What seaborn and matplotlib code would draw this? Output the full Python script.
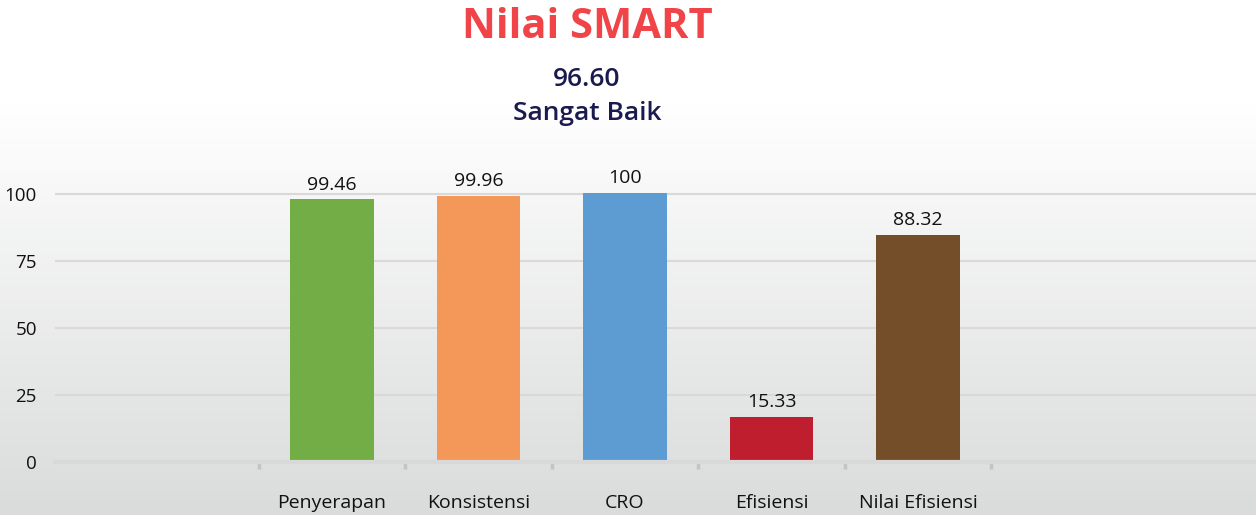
import numpy as np
import pandas as pd
import matplotlib
matplotlib.use("Agg")
import matplotlib.pyplot as plt
import seaborn as sns

# data
categories = ["Penyerapan", "Konsistensi", "CRO", "Efisiensi", "Nilai Efisiensi"]
bar_heights = [98.1, 99.3, 100.4, 16.8, 84.7]
value_labels = ["99.46", "99.96", "100", "15.33", "88.32"]
bar_colors = ["#72AD46", "#F39858", "#5D9BD3", "#BE1E2D", "#734E29"]
y_ticks = [0, 25, 50, 75, 100]
title = "Nilai SMART"
score = "96.60"
grade = "Sangat Baik"

sns.set_theme(style="white")
plt.rcParams['font.family'] = ['Open Sans', 'DejaVu Sans']

W, H = 1256, 515
fig = plt.figure(figsize=(W / 100, H / 100), dpi=100)

# background gradient (white top -> light grey bottom)
bg = fig.add_axes([0, 0, 1, 1])
grad = np.linspace(0, 1, 256)
grad = np.clip((grad - 0.2) / 0.8, 0, 1)
bg.imshow(grad[:, None], aspect="auto", cmap=sns.blend_palette(["#ffffff", "#dadbdb"], as_cmap=True),
          extent=[0, 1, 0, 1], origin="upper")
bg.set_axis_off()

# plot area in pixels
left, right, bottom, top = 55, 1256, 462, 150
ax = fig.add_axes([left / W, 1 - bottom / H, (right - left) / W, (bottom - top) / H])
ax.patch.set_alpha(0)

df = pd.DataFrame({"cat": categories, "val": bar_heights})
sns.barplot(data=df, x="cat", y="val", hue="cat", palette=bar_colors,
            width=0.57, legend=False, ax=ax, saturation=1, linewidth=0)

px_per_cat = 146.5
c0 = 332.0
ax.set_xlim((left - c0) / px_per_cat, (right - c0) / px_per_cat)
ppu = (462 - 194) / 100.0
ax.set_ylim(0, (bottom - top) / ppu)

ax.set_yticks(y_ticks)
ax.set_yticklabels([str(t) for t in y_ticks], fontsize=13.5, color="#111111")
ax.yaxis.grid(True, color="#d9d9d9", linewidth=1.5)
ax.set_axisbelow(True)

ax.set_xticks(range(len(categories)))
ax.set_xticklabels(categories, fontsize=14, color="#111111")
ax.tick_params(axis="x", which="major", length=0, pad=23)
ax.tick_params(axis="y", length=0, pad=13)
ax.set_xticks(np.arange(-0.5, len(categories)), minor=True)
ax.tick_params(axis="x", which="minor", bottom=True, length=5, width=2.5,
               color="#c4c4c4", direction="out")
ax.set_xlabel("")
ax.set_ylabel("")

for s in ["top", "right", "left"]:
    ax.spines[s].set_visible(False)
ax.spines["bottom"].set_color("#d9d9d9")
ax.spines["bottom"].set_linewidth(3)

for i, (h, lab) in enumerate(zip(bar_heights, value_labels)):
    ax.annotate(lab, (i, h), xytext=(0, 4), textcoords="offset points",
                ha="center", va="bottom", fontsize=14, color="#111111")

fig.text(587 / W, 1 - 27 / H, title, ha="center", va="center",
         fontsize=30, fontweight="bold", color="#F04448")
fig.text(587 / W, 1 - 79 / H, score, ha="center", va="center",
         fontsize=19, fontweight="semibold", color="#1A1A4E")
fig.text(587 / W, 1 - 113 / H, grade, ha="center", va="center",
         fontsize=19, fontweight="semibold", color="#1A1A4E")

fig.savefig("out.png", dpi=100)
